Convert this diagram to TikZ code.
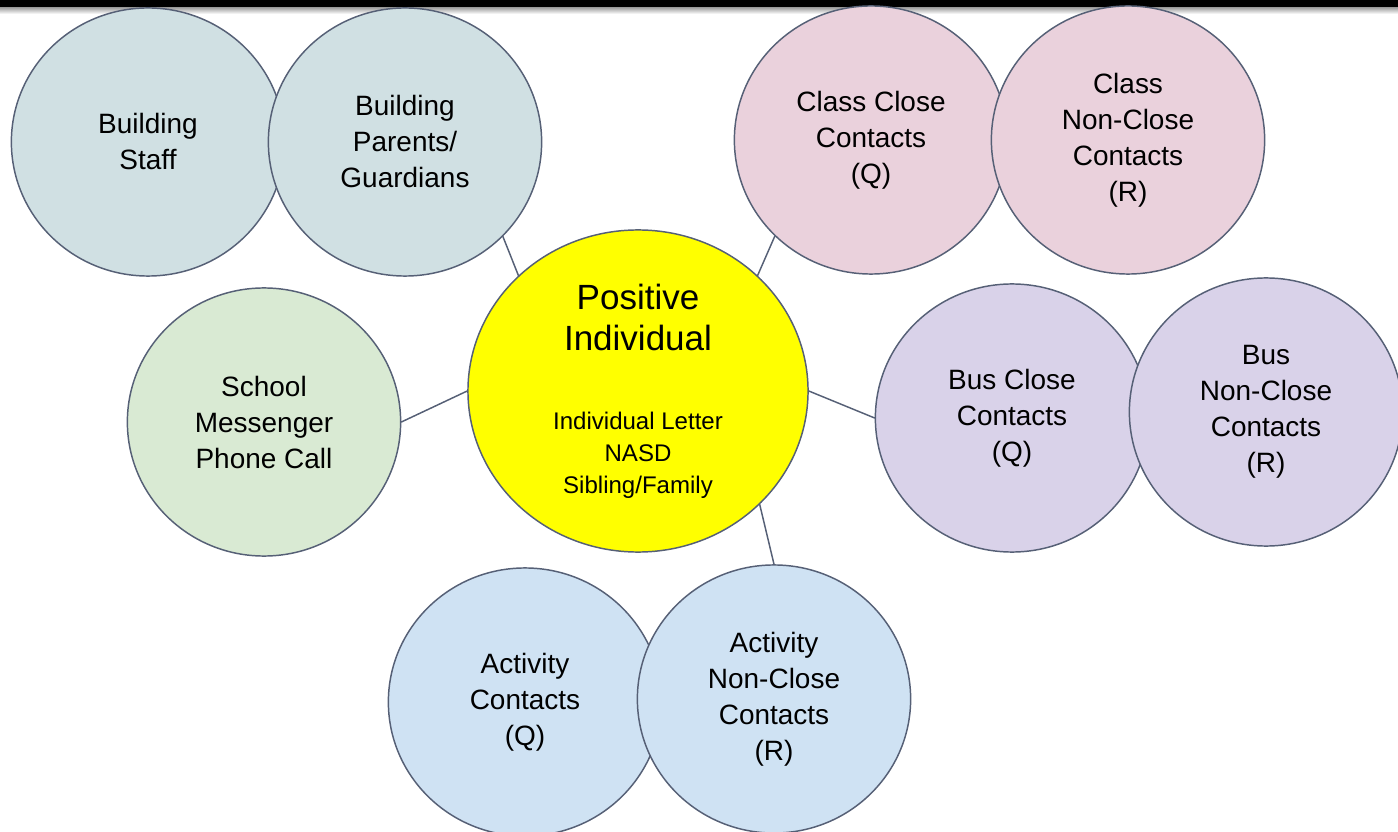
\documentclass[tikz,border=0pt]{standalone}
\usepackage{fontspec}
\setmainfont{Liberation Sans}
\usetikzlibrary{shapes.geometric}
\definecolor{rim}{HTML}{566076}
\definecolor{bldg}{HTML}{D0E0E3}
\definecolor{msg}{HTML}{D9EAD3}
\definecolor{cls}{HTML}{EAD1DC}
\definecolor{bus}{HTML}{D9D2E9}
\definecolor{act}{HTML}{CFE2F3}
\definecolor{hot}{HTML}{FFFF00}
\newcommand{\bigfnt}{\fontsize{24.9pt}{29.6pt}\selectfont}
\tikzset{
  bubble/.style={ellipse, draw=rim, line width=1.05pt, inner sep=0pt,
    minimum width=6.83cm, minimum height=6.7cm, align=center,
    font=\fontsize{19.9pt}{25.6pt}\selectfont},
  link/.style={draw=rim, line width=1.05pt}
}
\begin{document}
\begin{tikzpicture}[x=0.025cm, y=-0.025cm, line join=round, line cap=round]
				\useasboundingbox (0,0) rectangle (1398,832);
				% top bar
				\shade[top color=gray!80, bottom color=white] (0,7) rectangle (1398,14);
				\fill[black] (0,0) rectangle (1398,7);
				% bubbles
				\node[bubble, fill=bldg] (staff) at (148,142) {Building\\Staff};
				\node[bubble, fill=bldg] (parents) at (405,142) {Building\\Parents/\\Guardians};
				\node[bubble, fill=msg] (school) at (264,422) {School\\Messenger\\Phone Call};
				\node[bubble, fill=cls] (cclose) at (871,140) {Class Close\\Contacts\\(Q)};
				\node[bubble, fill=cls] (cnon) at (1128,140) {Class\\Non-Close\\Contacts\\(R)};
				\node[bubble, fill=bus] (bclose) at (1012,418) {Bus Close\\Contacts\\(Q)};
				\node[bubble, fill=bus] (bnon) at (1266,412) {Bus\\Non-Close\\Contacts\\(R)};
				\node[bubble, fill=act] (aclose) at (525,702) {Activity\\Contacts\\(Q)};
				\node[bubble, fill=act] (anon) at (774,699) {Activity\\Non-Close\\Contacts\\(R)};
				% centre
				\node[bubble, fill=hot, minimum width=8.5cm, minimum height=8.05cm,
				  font=\fontsize{17.1pt}{22.8pt}\selectfont] (pos) at (638,391)
				  {\bigfnt Positive\\[6.8pt]\bigfnt Individual\\[33pt]Individual Letter\\NASD\\Sibling/Family};
				% links
				\foreach \a/\b in {pos.136/parents.-44, pos.44/cclose.225, pos.0/bclose.180,
				  pos.-43/anon.90, school.0/pos.180}
				\draw[link] (\a)--(\b);
			\end{tikzpicture}
\end{document}
